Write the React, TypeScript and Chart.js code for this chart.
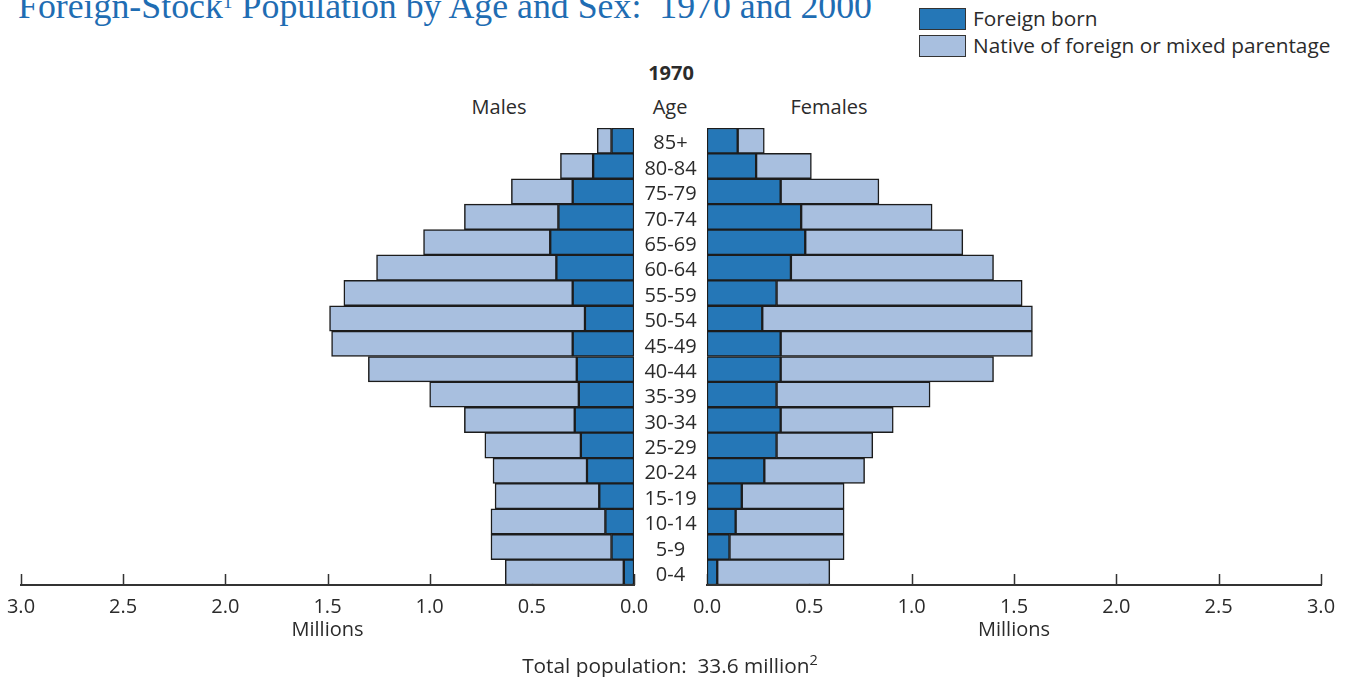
import React, { useEffect, useRef } from "react";
import { Chart, registerables } from "chart.js";
Chart.register(...registerables);

// ---- data (millions), rows listed top to bottom ----
const ageGroups = ["85+", "80-84", "75-79", "70-74", "65-69", "60-64", "55-59", "50-54", "45-49", "40-44", "35-39", "30-34", "25-29", "20-24", "15-19", "10-14", "5-9", "0-4"];
const maleForeignBorn = [0.11, 0.20, 0.30, 0.37, 0.41, 0.38, 0.30, 0.24, 0.30, 0.28, 0.27, 0.29, 0.26, 0.23, 0.17, 0.14, 0.11, 0.05];
const maleNative = [0.07, 0.16, 0.30, 0.46, 0.62, 0.88, 1.12, 1.25, 1.18, 1.02, 0.73, 0.54, 0.47, 0.46, 0.51, 0.56, 0.59, 0.58];
const femaleForeignBorn = [0.15, 0.24, 0.36, 0.46, 0.48, 0.41, 0.34, 0.27, 0.36, 0.36, 0.34, 0.36, 0.34, 0.28, 0.17, 0.14, 0.11, 0.05];
const femaleNative = [0.13, 0.27, 0.48, 0.64, 0.77, 0.99, 1.20, 1.32, 1.23, 1.04, 0.75, 0.55, 0.47, 0.49, 0.50, 0.53, 0.56, 0.55];
const seriesLabels = ["Foreign born", "Native of foreign or mixed parentage"];
const seriesColors = ["#2577b7", "#a8bfdf"];
const axisMax = 3.0;
const tickStep = 0.5;

const FONT = "'Open Sans', 'Noto Sans', sans-serif";
const TEXT = "#2b2b2b";

function makeDatasets(foreign: number[], native: number[]) {
  return [
    { label: seriesLabels[0], data: foreign, backgroundColor: seriesColors[0] },
    { label: seriesLabels[1], data: native, backgroundColor: seriesColors[1] },
  ].map((d) => ({
    ...d,
    borderColor: "#1c1c1c",
    borderWidth: 1.5,
    borderSkipped: false as const,
    barPercentage: 1,
    categoryPercentage: 1,
    stack: "s",
  }));
}

const axisTicksPlugin = {
  id: "axisTicks",
  beforeDatasetsDraw(chart: any) {
    const { ctx, chartArea, scales } = chart;
    const x = scales.x;
    ctx.save();
    ctx.strokeStyle = "#333";
    ctx.lineWidth = 1.5;
    ctx.beginPath();
    x.ticks.forEach((t: any) => {
      const px = Math.round(x.getPixelForValue(t.value)) + 0.5;
      ctx.moveTo(px, chartArea.bottom);
      ctx.lineTo(px, chartArea.bottom - 11);
    });
    ctx.stroke();
    ctx.restore();
  },
  afterDatasetsDraw(chart: any) {
    const { ctx, chartArea, scales } = chart;
    const x = scales.x;
    ctx.save();
    ctx.strokeStyle = "#333";
    ctx.lineWidth = 2;
    ctx.beginPath();
    ctx.moveTo(x.left - 1, chartArea.bottom);
    ctx.lineTo(x.right + 1, chartArea.bottom);
    ctx.stroke();
    ctx.restore();
  },
};

const ageLabelPlugin = {
  id: "ageLabels",
  afterDraw(chart: any) {
    const { ctx, chartArea, scales } = chart;
    const y = scales.y;
    ctx.save();
    ctx.font = `20px ${FONT}`;
    ctx.fillStyle = TEXT;
    ctx.textAlign = "center";
    ctx.textBaseline = "middle";
    ageGroups.forEach((g, i) => {
      ctx.fillText(g, chartArea.left - 36.5, y.getPixelForValue(i) + 3);
    });
    ctx.restore();
  },
};

function makeOptions(reverse: boolean, padLeft: number, padRight: number) {
  return {
    responsive: false,
    animation: false as const,
    devicePixelRatio: 1,
    indexAxis: "y" as const,
    layout: { padding: { left: padLeft, right: padRight, top: 128, bottom: 0 } },
    plugins: { legend: { display: false }, tooltip: { enabled: false } },
    scales: {
      y: { type: "category" as const, display: false, stacked: true },
      x: {
        type: "linear" as const,
        min: 0,
        max: axisMax,
        reverse,
        stacked: true,
        grid: { display: false, drawTicks: false },
        border: { display: false },
        ticks: {
          stepSize: tickStep,
          padding: 10,
          color: TEXT,
          font: { family: FONT, size: 20 },
          maxRotation: 0,
          autoSkip: false,
          callback: (v: any) => Number(v).toFixed(1),
        },
        title: {
          display: true,
          text: "Millions",
          color: TEXT,
          font: { family: FONT, size: 20 },
          padding: { top: 0, bottom: 35 },
        },
        afterFit: (scale: any) => {
          scale.height = 92;
          scale.paddingLeft = 0;
          scale.paddingRight = 0;
        },
      },
    },
  };
}

export default function App() {
  const leftRef = useRef<HTMLCanvasElement>(null);
  const rightRef = useRef<HTMLCanvasElement>(null);

  useEffect(() => {
    const left = new Chart(leftRef.current!, {
      type: "bar",
      data: { labels: ageGroups, datasets: makeDatasets(maleForeignBorn, maleNative) as any },
      options: makeOptions(true, 21, 36) as any,
      plugins: [axisTicksPlugin],
    });
    const right = new Chart(rightRef.current!, {
      type: "bar",
      data: { labels: ageGroups, datasets: makeDatasets(femaleForeignBorn, femaleNative) as any },
      options: makeOptions(false, 107, 27) as any,
      plugins: [axisTicksPlugin, ageLabelPlugin],
    });
    return () => {
      left.destroy();
      right.destroy();
    };
  }, []);

  const centered = (x: number, y: number, extra: React.CSSProperties = {}): React.CSSProperties => ({
    position: "absolute",
    left: x,
    top: y,
    transform: "translate(-50%, -50%)",
    whiteSpace: "pre",
    fontFamily: FONT,
    fontSize: 20,
    lineHeight: "20px",
    color: TEXT,
    ...extra,
  });

  return (
    <div style={{ position: "fixed", left: 0, top: 0, width: 1348, height: 677, background: "#fff", overflow: "hidden" }}>
      <div
        style={{
          position: "absolute",
          left: 18,
          top: -17.5,
          fontFamily: "'Liberation Serif', 'DejaVu Serif', serif",
          fontSize: 35.8,
          lineHeight: "36px",
          color: "#1f6db3",
          whiteSpace: "pre",
        }}
      >
        Foreign-Stock<span style={{ fontSize: "0.55em", verticalAlign: "0.5em" }}>1</span> Population by Age and Sex:  1970 and 2000
      </div>

      {seriesLabels.map((lab, i) => (
        <div key={lab}>
          <div
            style={{
              position: "absolute",
              left: 919,
              top: 8 + i * 27,
              width: 45,
              height: 20,
              background: seriesColors[i],
              border: "1.5px solid #333",
            }}
          />
          <div
            style={{
              position: "absolute",
              left: 973,
              top: 17.5 + i * 27,
              transform: "translateY(-50%)",
              fontFamily: FONT,
              fontSize: 20.8,
              lineHeight: "21px",
              color: TEXT,
              whiteSpace: "nowrap",
            }}
          >
            {lab}
          </div>
        </div>
      ))}

      <div style={centered(671, 73, { fontWeight: 700 })}>1970</div>
      <div style={centered(499, 107)}>Males</div>
      <div style={centered(670, 107)}>Age</div>
      <div style={centered(829, 107)}>Females</div>

      <canvas ref={leftRef} width={670} height={677} style={{ position: "absolute", left: 0, top: 0 }} />
      <canvas ref={rightRef} width={748} height={677} style={{ position: "absolute", left: 600, top: 0 }} />

      <div style={centered(670, 662, { fontSize: 20.8 })}>
        Total population:  33.6 million<span style={{ fontSize: "0.7em", verticalAlign: "0.55em" }}>2</span>
      </div>
    </div>
  );
}
